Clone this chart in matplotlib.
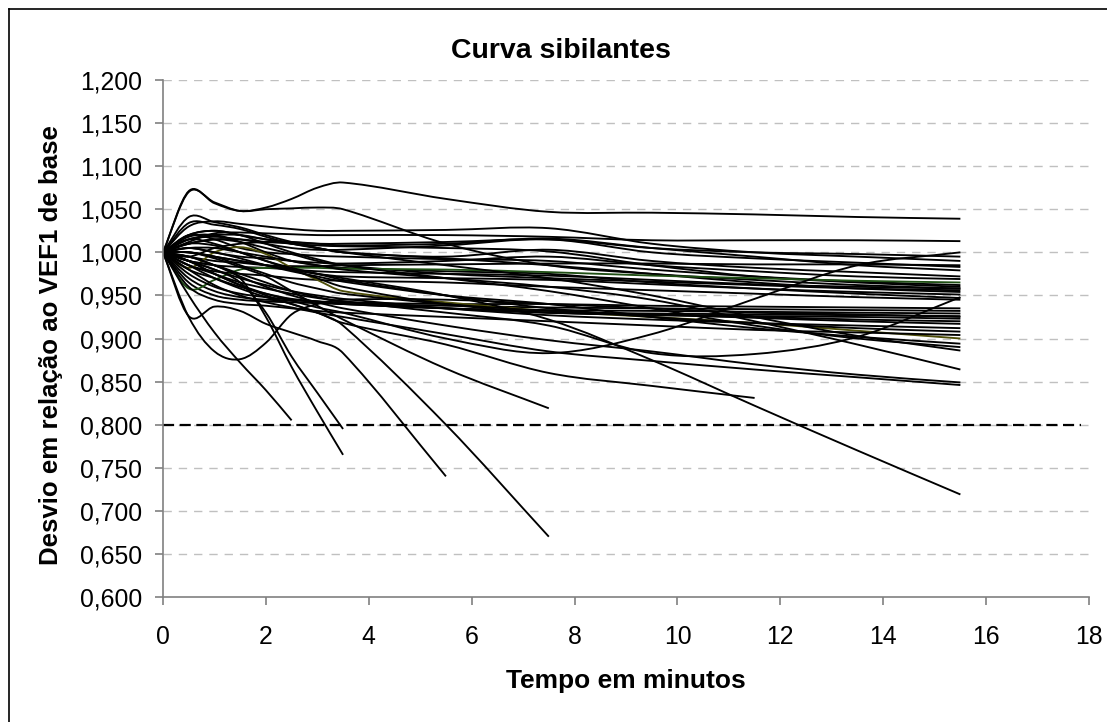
import numpy as np
import matplotlib
matplotlib.use("Agg")
import matplotlib.pyplot as plt
from matplotlib.path import Path
from matplotlib.patches import PathPatch

plt.rcParams['font.family'] = ['Liberation Sans', 'DejaVu Sans']

# tempos de medicao (minutos)
tempo = [0, 0.5, 1, 1.5, 2, 2.5, 3, 3.5, 5.5, 7.5, 9.5, 11.5, 13.5, 15.5]

# curvas pretas (cada uma cobre os primeiros len() tempos)
curvas = [
    [1.0, 1.071, 1.057, 1.048, 1.052, 1.062, 1.075, 1.081, 1.062, 1.047, 1.046, 1.044, 1.041, 1.039],
    [1.0, 1.070, 1.058, 1.048, 1.050, 1.051, 1.052, 1.050, 1.010, 0.985, 0.975, 0.968, 0.962, 0.958],
    [1.0, 1.012, 1.022, 1.023, 1.022, 1.021, 1.020, 1.020, 1.020, 1.018, 1.014, 1.014, 1.014, 1.013],
    [1.0, 1.030, 1.036, 1.033, 1.030, 1.027, 1.025, 1.025, 1.026, 1.028, 1.010, 1.000, 0.995, 0.990],
    [1.0, 1.020, 1.025, 1.020, 1.015, 1.012, 1.010, 1.010, 1.012, 1.015, 1.005, 1.000, 0.998, 0.995],
    [1.0, 1.015, 1.018, 1.015, 1.010, 1.005, 1.003, 1.003, 1.008, 1.015, 1.000, 0.993, 0.988, 0.983],
    [1.0, 0.995, 1.005, 1.010, 1.012, 1.012, 1.010, 1.008, 1.010, 1.016, 1.005, 0.995, 0.985, 0.979],
    [1.0, 1.041, 1.035, 1.029, 1.020, 1.012, 1.005, 1.000, 0.995, 1.003, 0.990, 0.982, 0.977, 0.972],
    [1.0, 1.005, 1.000, 0.995, 0.993, 0.990, 0.988, 0.987, 0.990, 0.995, 0.985, 0.978, 0.972, 0.969],
    [1.0, 1.020, 1.015, 1.005, 1.000, 0.998, 0.996, 0.995, 0.992, 0.990, 0.980, 0.972, 0.966, 0.962],
    [1.0, 0.990, 0.985, 0.983, 0.982, 0.980, 0.978, 0.977, 0.975, 0.973, 0.968, 0.963, 0.960, 0.958],
    [1.0, 1.010, 1.015, 1.012, 1.005, 0.998, 0.990, 0.985, 0.975, 0.970, 0.966, 0.962, 0.958, 0.956],
    [1.0, 1.000, 0.995, 0.990, 0.985, 0.980, 0.975, 0.972, 0.970, 0.968, 0.963, 0.958, 0.954, 0.951],
    [1.0, 1.018, 1.020, 1.012, 1.000, 0.990, 0.985, 0.982, 0.978, 0.975, 0.965, 0.958, 0.952, 0.947],
    [1.0, 0.985, 0.978, 0.975, 0.973, 0.970, 0.968, 0.967, 0.965, 0.960, 0.956, 0.952, 0.948, 0.945],
    [1.0, 1.015, 1.020, 1.020, 1.015, 1.010, 1.008, 1.007, 1.005, 1.001, 0.985, 0.972, 0.965, 0.960],
    [1.0, 1.034, 1.032, 1.027, 1.018, 1.010, 1.005, 1.000, 0.993, 0.985, 0.975, 0.965, 0.958, 0.954],
    [1.0, 0.995, 0.990, 0.988, 0.985, 0.984, 0.984, 0.985, 0.986, 0.987, 0.987, 0.986, 0.986, 0.985],
    [1.0, 0.970, 0.955, 0.948, 0.945, 0.944, 0.943, 0.942, 0.940, 0.940, 0.938, 0.937, 0.936, 0.935],
    [1.0, 0.965, 0.950, 0.945, 0.943, 0.942, 0.941, 0.940, 0.938, 0.936, 0.935, 0.934, 0.933, 0.932],
    [1.0, 0.980, 0.970, 0.960, 0.952, 0.946, 0.943, 0.940, 0.935, 0.933, 0.932, 0.931, 0.930, 0.929],
    [1.0, 0.990, 0.985, 0.975, 0.965, 0.955, 0.948, 0.943, 0.935, 0.930, 0.929, 0.928, 0.927, 0.926],
    [1.0, 1.010, 1.008, 1.000, 0.990, 0.980, 0.970, 0.960, 0.940, 0.930, 0.928, 0.926, 0.925, 0.923],
    [1.0, 0.975, 0.960, 0.952, 0.948, 0.945, 0.943, 0.940, 0.935, 0.930, 0.927, 0.925, 0.922, 0.920],
    [1.0, 1.000, 0.995, 0.985, 0.975, 0.965, 0.958, 0.952, 0.940, 0.932, 0.928, 0.924, 0.920, 0.917],
    [1.0, 0.990, 0.980, 0.970, 0.962, 0.955, 0.950, 0.946, 0.935, 0.927, 0.922, 0.918, 0.915, 0.912],
    [1.0, 1.015, 1.010, 1.000, 0.990, 0.982, 0.975, 0.968, 0.950, 0.935, 0.925, 0.918, 0.912, 0.908],
    [1.0, 1.005, 1.000, 0.993, 0.985, 0.978, 0.972, 0.966, 0.950, 0.940, 0.925, 0.912, 0.902, 0.894],
    [1.0, 1.020, 1.025, 1.020, 1.010, 1.000, 0.992, 0.985, 0.970, 0.955, 0.935, 0.915, 0.900, 0.890],
    [1.0, 1.010, 1.015, 1.015, 1.012, 1.010, 1.005, 1.000, 0.985, 0.970, 0.950, 0.925, 0.903, 0.886],
    [1.0, 0.960, 0.945, 0.940, 0.938, 0.935, 0.932, 0.930, 0.925, 0.920, 0.915, 0.910, 0.907, 0.904],
    [1.0, 0.985, 0.975, 0.965, 0.958, 0.952, 0.947, 0.943, 0.930, 0.915, 0.883, 0.882, 0.902, 0.948],
    [1.0, 0.990, 0.975, 0.962, 0.952, 0.944, 0.936, 0.930, 0.900, 0.883, 0.905, 0.946, 0.985, 1.000],
    [1.0, 0.925, 0.885, 0.876, 0.895, 0.928, 0.940, 0.945, 0.945, 0.940, 0.935, 0.930, 0.928, 0.925],
    [1.0, 1.000, 0.995, 0.990, 0.985, 0.980, 0.975, 0.970, 0.950, 0.922, 0.875, 0.822, 0.770, 0.719],
    [1.0, 1.005, 1.005, 1.000, 0.995, 0.990, 0.985, 0.980, 0.970, 0.960, 0.945, 0.920, 0.893, 0.864],
    [1.0, 0.980, 0.962, 0.950, 0.942, 0.936, 0.930, 0.925, 0.905, 0.885, 0.874, 0.864, 0.855, 0.846],
    [1.0, 0.995, 0.985, 0.972, 0.960, 0.950, 0.942, 0.935, 0.915, 0.898, 0.885, 0.870, 0.858, 0.849],
    [1.0, 0.985, 0.970, 0.958, 0.948, 0.940, 0.930, 0.918, 0.893, 0.860, 0.845, 0.831],
    [1.0, 1.000, 0.993, 0.983, 0.972, 0.955, 0.938, 0.922, 0.865, 0.819],
    [1.0, 0.990, 0.975, 0.962, 0.950, 0.940, 0.930, 0.915, 0.800, 0.670],
    [1.0, 0.926, 0.937, 0.932, 0.917, 0.907, 0.897, 0.883, 0.740],
    [1.0, 0.990, 0.980, 0.965, 0.930, 0.879, 0.837, 0.795],
    [1.0, 0.995, 0.985, 0.970, 0.925, 0.867, 0.815, 0.765],
    [1.0, 0.950, 0.907, 0.872, 0.840, 0.805],
]
curva_verde = [1.0, 0.958, 0.968, 0.980, 0.982, 0.982, 0.982, 0.981, 0.980, 0.977, 0.973, 0.970, 0.967, 0.965]
curva_oliva = [1.0, 0.982, 1.000, 1.006, 0.998, 0.982, 0.968, 0.955, 0.942, 0.932, 0.925, 0.918, 0.909, 0.900]

limite = 0.8
yticks = np.arange(0.6, 1.2001, 0.05)
xticks = np.arange(0, 19, 2)


def caminho_suave(x, y):
    # curva suavizada tipo Excel (bezier cubica por segmento)
    x = np.asarray(x, float)
    y = np.asarray(y, float)
    n = len(x)
    m = np.zeros(n)
    for i in range(n):
        if i == 0:
            m[i] = (y[1] - y[0]) / (x[1] - x[0])
        elif i == n - 1:
            m[i] = (y[-1] - y[-2]) / (x[-1] - x[-2])
        else:
            m[i] = (y[i + 1] - y[i - 1]) / (x[i + 1] - x[i - 1])
    verts = [(x[0], y[0])]
    codes = [Path.MOVETO]
    for i in range(n - 1):
        h = x[i + 1] - x[i]
        verts.append((x[i] + h / 3, y[i] + m[i] * h / 3))
        verts.append((x[i + 1] - h / 3, y[i + 1] - m[i + 1] * h / 3))
        verts.append((x[i + 1], y[i + 1]))
        codes += [Path.CURVE4] * 3
    return Path(verts, codes)


fig = plt.figure(figsize=(11.07, 7.22), dpi=100)
W, H = 1107, 722
ax = fig.add_axes([163 / W, 1 - 597 / H, (1089 - 163) / W, (597 - 80) / H])

ax.set_xlim(0, 18)
ax.set_ylim(0.6, 1.2)

for v in yticks[1:]:
    ax.axhline(v, color='#c0c0c0', lw=1.0, dashes=(6, 5), zorder=0)

ax.plot([0, 17.85], [limite, limite], color='black', lw=1.6, dashes=(5, 2.5), zorder=1)

for c in curvas[:20]:
    ax.add_patch(PathPatch(caminho_suave(tempo[:len(c)], c), fill=False, edgecolor='black', lw=1.35, zorder=2))
ax.add_patch(PathPatch(caminho_suave(tempo, curva_verde), fill=False, edgecolor='#1f4f14', lw=1.35, zorder=2))
ax.add_patch(PathPatch(caminho_suave(tempo, curva_oliva), fill=False, edgecolor='#4f4f0a', lw=1.35, zorder=2))
for c in curvas[20:]:
    ax.add_patch(PathPatch(caminho_suave(tempo[:len(c)], c), fill=False, edgecolor='black', lw=1.35, zorder=2))

for s in ['top', 'right']:
    ax.spines[s].set_visible(False)
for s in ['left', 'bottom']:
    ax.spines[s].set_color('#808080')
    ax.spines[s].set_linewidth(1.2)

ax.set_xticks(xticks)
ax.set_yticks(yticks)
ax.set_xticklabels([str(int(t)) for t in xticks])
ax.set_yticklabels([('%.3f' % v).replace('.', ',') for v in yticks])
ax.tick_params(axis='both', direction='out', length=6, width=1.2, color='#808080',
               labelsize=17.8, labelcolor='black')
ax.tick_params(axis='x', pad=14)
ax.tick_params(axis='y', pad=9)

fig.text(561 / W, 1 - 51 / H, 'Curva sibilantes', fontsize=20.5, fontweight='bold',
         ha='center', va='center')
fig.text(626 / W, 1 - 681 / H, 'Tempo em minutos', fontsize=19, fontweight='bold',
         ha='center', va='center')
fig.text(51 / W, 1 - 345 / H, 'Desvio em relação ao VEF1 de base', fontsize=18.6,
         fontweight='bold', ha='center', va='center', rotation=90)

# moldura do grafico (so esquerda e topo visiveis no recorte)
fig.add_artist(plt.Line2D([9 / W, 9 / W], [0, 1 - 9 / H], color='black', lw=1.2,
                          transform=fig.transFigure))
fig.add_artist(plt.Line2D([9 / W, 1], [1 - 9 / H, 1 - 9 / H], color='black', lw=1.2,
                          transform=fig.transFigure))

fig.savefig('out.png', dpi=100)
